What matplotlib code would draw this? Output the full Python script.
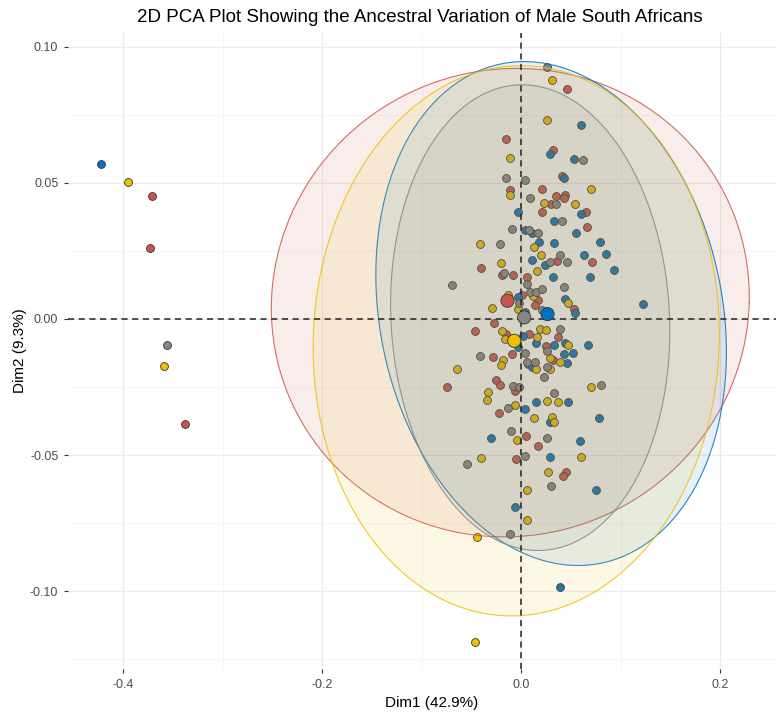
import numpy as np
import matplotlib.pyplot as plt

plt.rcParams['font.family'] = ['Liberation Sans', 'DejaVu Sans']

# individuals, one group per colour
red_x = [0.0455, -0.0151, 0.0315, 0.0412, -0.0111, 0.0208, 0.0345, 0.0435, 0.0425, 0.0302,
         0.0208, 0.0646, 0.0660, 0.0362, 0.0711, -0.0409, -0.0191, -0.0083, 0.0057, 0.0007,
         0.0164, 0.0141, 0.0526, -0.0271, -0.0469, -0.0151, 0.0077, 0.0365, 0.0251, -0.0097,
         -0.0284, 0.0315, -0.0254, -0.0211, -0.0741, -0.0067, -0.0221, 0.0047, 0.0164, -0.0050,
         0.0445, 0.0415, -0.3705, -0.3729, -0.3377]
red_y = [0.0844, 0.0661, 0.0619, 0.0526, 0.0472, 0.0477, 0.0453, 0.0455, 0.0444, 0.0423,
         0.0393, 0.0393, 0.0337, 0.0213, 0.0210, 0.0186, 0.0161, 0.0163, 0.0155, 0.0089,
         0.0070, 0.0051, 0.0036, -0.0016, -0.0043, -0.0056, -0.0055, -0.0065, -0.0099, -0.0129,
         -0.0141, -0.0151, -0.0224, -0.0244, -0.0249, -0.0264, -0.0344, -0.0430, -0.0467, -0.0514,
         -0.0561, -0.0577, 0.0452, 0.0262, -0.0387]

blue_x = [0.0291, 0.0600, 0.0526, 0.0425, -0.0030, 0.0600, 0.0332, 0.0033, 0.0108, 0.0546,
          0.0181, 0.0332, 0.0794, 0.0630, 0.0854, 0.0108, 0.0241, 0.0928, 0.0322, 0.0693,
          -0.0037, 0.0439, 0.0033, 0.0543, 0.1223, 0.0017, 0.0151, 0.0332, 0.0442, 0.0673,
          -0.0030, 0.0520, 0.0425, 0.0063, 0.0108, 0.0459, 0.0037, 0.0151, 0.0465, 0.0291,
          0.0784, -0.0305, 0.0590, 0.0291, 0.0754, -0.0060, 0.0385, -0.4221]
blue_y = [0.0607, 0.0713, 0.0588, 0.0517, 0.0393, 0.0385, 0.0359, 0.0325, 0.0317, 0.0315,
          0.0284, 0.0280, 0.0284, 0.0235, 0.0239, 0.0217, 0.0200, 0.0180, 0.0155, 0.0155,
          0.0080, 0.0074, 0.0027, 0.0021, 0.0055, -0.0062, -0.0089, -0.0096, -0.0089, -0.0096,
          -0.0104, -0.0124, -0.0129, -0.0165, -0.0178, -0.0163, -0.0330, -0.0306, -0.0304, -0.0379,
          -0.0363, -0.0437, -0.0448, -0.0505, -0.0627, -0.0692, -0.0984, 0.0570]

yellow_x = [0.0312, 0.0258, -0.0111, 0.0700, -0.0111, 0.0228, 0.0536, -0.0419, 0.0131, 0.0201,
            -0.0204, 0.0154, -0.0138, 0.0118, -0.0030, 0.0472, -0.0294, -0.0194, -0.0161, 0.0158,
            0.0191, 0.0251, 0.0465, -0.0184, -0.0204, 0.0144, 0.0291, 0.0392, 0.0291, -0.0646,
            0.0704, -0.0332, -0.0339, -0.0060, 0.0258, 0.0372, 0.0128, 0.0312, 0.0325, -0.0047,
            -0.0409, 0.0600, 0.0268, 0.0053, 0.0057, -0.0445, -0.0469, -0.3953, -0.3591]
yellow_y = [0.0879, 0.0731, 0.0592, 0.0479, 0.0456, 0.0426, 0.0423, 0.0277, 0.0265, 0.0234,
            0.0206, 0.0175, 0.0088, 0.0085, 0.0037, 0.0060, 0.0039, -0.0043, -0.0075, -0.0065,
            -0.0038, -0.0040, -0.0096, -0.0151, -0.0169, -0.0185, -0.0144, -0.0157, -0.0185, -0.0185,
            -0.0249, -0.0267, -0.0298, -0.0317, -0.0300, -0.0304, -0.0363, -0.0359, -0.0379, -0.0446,
            -0.0512, -0.0505, -0.0561, -0.0627, -0.0739, -0.0802, -0.1186, 0.0502, -0.0172]

gray_x = [0.0254, 0.0620, -0.0151, 0.0033, 0.0083, 0.0349, 0.0409, -0.0090, 0.0077, 0.0168,
          -0.0214, 0.0392, 0.0284, 0.0455, -0.0171, -0.0696, 0.0057, 0.0425, 0.0090, 0.0151,
          0.0208, -0.0023, 0.0208, 0.0385, 0.0258, 0.0037, -0.0412, 0.0057, 0.0141, 0.0258,
          0.0224, -0.0083, -0.0027, 0.0801, 0.0325, -0.0138, -0.0101, 0.0258, -0.0540, 0.0037,
          0.0294, -0.0111, -0.3555]
gray_y = [0.0927, 0.0582, 0.0518, 0.0511, 0.0445, 0.0423, 0.0359, 0.0332, 0.0325, 0.0314,
          0.0277, 0.0234, 0.0210, 0.0210, 0.0170, 0.0124, 0.0129, 0.0117, 0.0100, 0.0100,
          0.0109, 0.0058, 0.0033, -0.0038, -0.0117, -0.0124, -0.0136, -0.0157, -0.0157, -0.0178,
          -0.0212, -0.0246, -0.0249, -0.0242, -0.0273, -0.0327, -0.0411, -0.0437, -0.0533, -0.0503,
          -0.0614, -0.0788, -0.0097]

# group means (big points)
mean_x = [-0.0138, 0.0264, -0.0070, 0.0030]
mean_y = [0.0067, 0.0018, -0.0080, 0.0006]

# ellipses: centre, x radius, y radius, x shift at the top (tilt)
ell_cx = [-0.011, 0.030, -0.005, 0.009]
ell_cy = [0.006, 0.002, -0.008, 0.0005]
ell_rx = [0.240, 0.174, 0.204, 0.140]
ell_ry = [0.086, 0.0925, 0.101, 0.0855]
ell_tilt = [0.006, -0.027, 0.005, -0.008]

colors = ["#CD534C", "#0073C2", "#EFC000", "#868686"]
xs = [red_x, blue_x, yellow_x, gray_x]
ys = [red_y, blue_y, yellow_y, gray_y]

fig = plt.figure(figsize=(7.76, 7.15), dpi=100)
ax = fig.add_axes([68 / 776, 1 - 669 / 715, (795 - 68) / 776, (669 - 33) / 715])

for x, y, c in zip(xs, ys, colors):
    ax.scatter(x, y, s=32, color=c, edgecolors="#333333", linewidths=0.6, zorder=2)

t = np.linspace(0, 2 * np.pi, 300)
for i, c in enumerate(colors):
    ex = ell_cx[i] + ell_rx[i] * np.cos(t) + ell_tilt[i] * np.sin(t)
    ey = ell_cy[i] + ell_ry[i] * np.sin(t)
    ax.fill(ex, ey, color=c, alpha=0.1, lw=0, zorder=3)
    ax.plot(ex, ey, color=c, lw=0.8, alpha=0.85, zorder=3)

ax.axhline(0, color="#222222", ls=(0, (4, 3)), lw=1.1, zorder=4)
ax.axvline(0, color="#222222", ls=(0, (4, 3)), lw=1.1, zorder=4)

ax.scatter(mean_x, mean_y, s=90, color=colors, edgecolors="#333333", linewidths=0.6, zorder=5)

ax.set_xlim(-0.4553, 0.275)
ax.set_ylim(-0.1285, 0.105)
ax.set_xticks([-0.4, -0.2, 0.0, 0.2])
ax.set_xticklabels(["-0.4", "-0.2", "0.0", "0.2"])
ax.set_yticks([-0.10, -0.05, 0.00, 0.05, 0.10])
ax.set_yticklabels(["-0.10", "-0.05", "0.00", "0.05", "0.10"])
ax.set_xticks([-0.3, -0.1, 0.1], minor=True)
ax.set_yticks([-0.125, -0.075, -0.025, 0.025, 0.075], minor=True)
ax.grid(True, which="major", color="#EBEBEB", lw=0.9, zorder=0)
ax.grid(True, which="minor", color="#F2F2F2", lw=0.6, zorder=0)
ax.set_axisbelow(True)
ax.tick_params(which="major", length=3, width=0.8, color="#333333", labelcolor="#4D4D4D",
               labelsize=9, pad=4)
ax.tick_params(which="minor", length=0)
for sp in ax.spines.values():
    sp.set_visible(False)

ax.set_xlabel("Dim1 (42.9%)", fontsize=11, labelpad=4)
ax.set_ylabel("Dim2 (9.3%)", fontsize=11, labelpad=2)
fig.text(0.5 * (137 + 702) / 776, 1 - 17 / 715, "2D PCA Plot Showing the Ancestral Variation of Male South Africans",
         ha="center", va="center", fontsize=13.5)

fig.savefig("out.png", dpi=100)
